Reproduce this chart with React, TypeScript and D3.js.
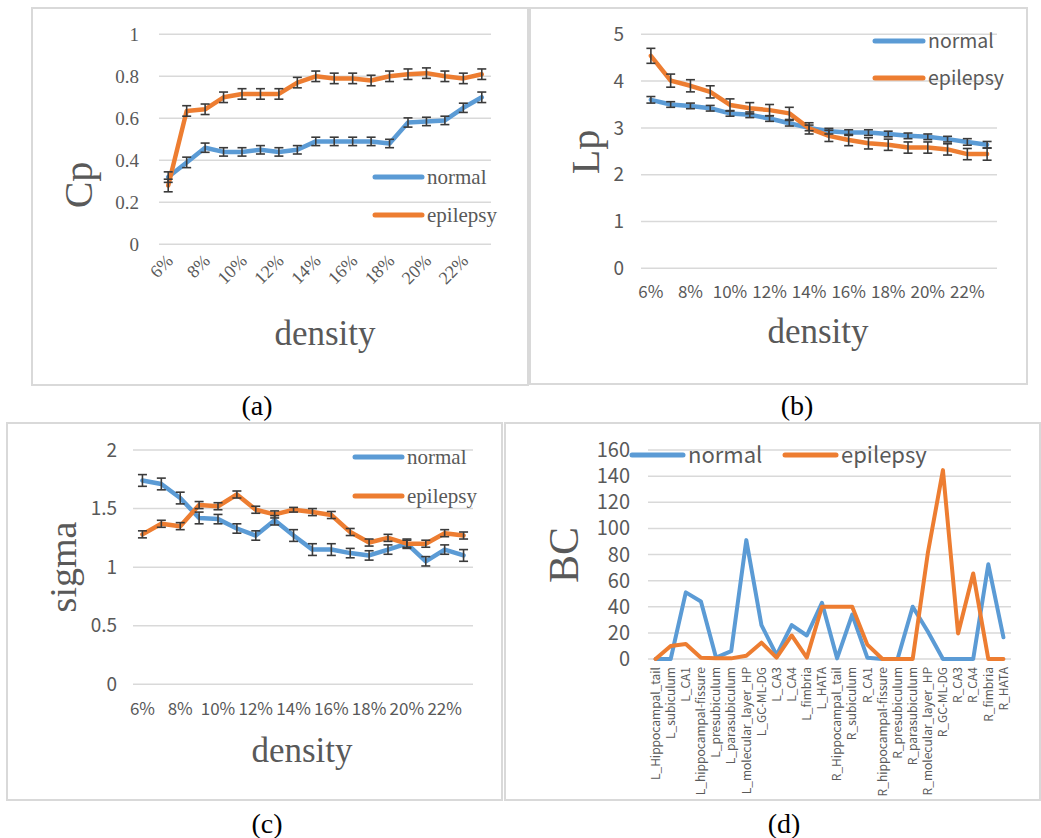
import React from "react";
import * as d3 from "d3";

const densityLabels = ["6%", "7%", "8%", "9%", "10%", "11%", "12%", "13%", "14%", "15%", "16%", "17%", "18%", "19%", "20%", "21%", "22%", "23%"];

// (a) clustering coefficient
const cpTicks = [0, 0.2, 0.4, 0.6, 0.8, 1];
const cpNormal = [0.32, 0.39, 0.46, 0.44, 0.44, 0.45, 0.44, 0.45, 0.49, 0.49, 0.49, 0.49, 0.48, 0.58, 0.585, 0.59, 0.65, 0.7];
const cpNormalErr = [0.025, 0.025, 0.022, 0.02, 0.02, 0.02, 0.02, 0.02, 0.02, 0.02, 0.02, 0.02, 0.02, 0.022, 0.02, 0.02, 0.022, 0.025];
const cpEpilepsy = [0.28, 0.635, 0.643, 0.7, 0.716, 0.716, 0.716, 0.77, 0.8, 0.79, 0.79, 0.78, 0.8, 0.81, 0.815, 0.8, 0.79, 0.81];
const cpEpilepsyErr = [0.03, 0.025, 0.025, 0.025, 0.025, 0.025, 0.025, 0.025, 0.025, 0.025, 0.025, 0.025, 0.025, 0.025, 0.025, 0.025, 0.025, 0.025];

// (b) characteristic path length
const lpTicks = [0, 1, 2, 3, 4, 5];
const lpNormal = [3.6, 3.5, 3.47, 3.42, 3.31, 3.28, 3.2, 3.1, 3.0, 2.93, 2.9, 2.9, 2.87, 2.83, 2.81, 2.76, 2.7, 2.64];
const lpNormalErr = [0.07, 0.06, 0.06, 0.06, 0.06, 0.06, 0.06, 0.06, 0.06, 0.06, 0.06, 0.06, 0.06, 0.06, 0.06, 0.06, 0.07, 0.07];
const lpEpilepsy = [4.54, 4.01, 3.9, 3.77, 3.49, 3.42, 3.38, 3.31, 2.99, 2.83, 2.74, 2.67, 2.64, 2.58, 2.58, 2.54, 2.44, 2.44];
const lpEpilepsyErr = [0.16, 0.14, 0.13, 0.13, 0.13, 0.12, 0.12, 0.13, 0.12, 0.12, 0.12, 0.12, 0.12, 0.12, 0.12, 0.12, 0.12, 0.13];

// (c) small-worldness
const sigmaTicks = [0, 0.5, 1, 1.5, 2];
const sigmaNormal = [1.74, 1.71, 1.59, 1.42, 1.41, 1.33, 1.27, 1.4, 1.27, 1.15, 1.15, 1.12, 1.1, 1.15, 1.2, 1.05, 1.15, 1.1];
const sigmaNormalErr = [0.05, 0.05, 0.05, 0.05, 0.04, 0.04, 0.04, 0.04, 0.05, 0.05, 0.05, 0.04, 0.04, 0.04, 0.04, 0.04, 0.04, 0.05];
const sigmaEpilepsy = [1.28, 1.37, 1.35, 1.53, 1.52, 1.62, 1.49, 1.45, 1.49, 1.47, 1.445, 1.3, 1.21, 1.25, 1.2, 1.2, 1.29, 1.27];
const sigmaEpilepsyErr = [0.03, 0.03, 0.03, 0.03, 0.03, 0.03, 0.03, 0.03, 0.02, 0.03, 0.03, 0.03, 0.03, 0.03, 0.03, 0.03, 0.03, 0.03];

// (d) betweenness centrality per region
const regionLabels = [
  "L_Hippocampal_tail", "L_subiculum", "L_CA1", "L_hippocampal-fissure", "L_presubiculum", "L_parasubiculum",
  "L_molecular_layer_HP", "L_GC-ML-DG", "L_CA3", "L_CA4", "L_fimbria", "L_HATA",
  "R_Hippocampal_tail", "R_subiculum", "R_CA1", "R_hippocampal-fissure", "R_presubiculum", "R_parasubiculum",
  "R_molecular_layer_HP", "R_GC-ML-DG", "R_CA3", "R_CA4", "R_fimbria", "R_HATA",
];
const bcTicks = [0, 20, 40, 60, 80, 100, 120, 140, 160];
const bcNormal = [0, 0, 51, 44, 1, 6, 91, 26, 3, 26, 18, 43, 0.5, 34, 1, 0, 0, 40, 21, 0, 0, 0, 72.5, 16.6];
const bcEpilepsy = [0, 10, 11.5, 1, 0.5, 0.5, 2.5, 12.5, 1, 18, 1, 40, 40, 40, 11, 0, 0, 0, 81, 144.6, 19.6, 65.5, 0, 0];

const BLUE = "#5B9BD5";
const ORANGE = "#ED7D31";
const GRID = "#d9d9d9";
const TEXT = "#595959";
const SERIF = "'Liberation Serif', 'Times New Roman', serif";
const SANS = "'Noto Sans CJK SC', 'Microsoft YaHei', sans-serif";

function LinePanel(p: any) {
  const x = d3.scalePoint<string>().domain(p.categories).range([p.x0, p.x1]).padding(0.5);
  const y = d3.scaleLinear().domain([0, p.yMax]).range([p.yBottom, p.yTop]);
  const line = d3.line<number>()
    .x((d, i) => x(p.categories[i]) as number)
    .y(d => y(d));

  return (
    <g>
      <rect x={p.frame[0]} y={p.frame[1]} width={p.frame[2]} height={p.frame[3]} fill="none" stroke={GRID} strokeWidth={2} />
      {p.ticks.map((t: number) => (
        <g key={t}>
          <line x1={p.x0} x2={p.x1} y1={y(t)} y2={y(t)} stroke={GRID} strokeWidth={1.5} />
          <text x={p.tickX} y={y(t)} dy="0.35em" textAnchor="end" fontFamily={p.tickFont} fontSize={p.tickSize} fill={TEXT}>{String(t)}</text>
        </g>
      ))}
      {p.categories.map((c: string, i: number) => {
        if (i % p.labelEvery !== 0) return null;
        const cx = x(c) as number;
        if (p.xLabelMode === "rot45") {
          return (
            <text key={c} transform={`translate(${cx + 6},${p.xLabelY}) rotate(-45)`} textAnchor="end" fontFamily={p.xFont} fontSize={p.xSize} fill={TEXT}>{c}</text>
          );
        }
        if (p.xLabelMode === "rot90") {
          return (
            <text key={c} transform={`translate(${cx},${p.xLabelY}) rotate(-90)`} dy="0.35em" textAnchor="end" fontFamily={p.xFont} fontSize={p.xSize} fill={TEXT}>{c}</text>
          );
        }
        return (
          <text key={c} x={cx} y={p.xLabelY} textAnchor="middle" fontFamily={p.xFont} fontSize={p.xSize} fill={TEXT}>{c}</text>
        );
      })}
      {p.series.map((s: any, k: number) => (
        <path key={k} d={line(s.values) as string} fill="none" stroke={s.color} strokeWidth={p.lineWidth} strokeLinejoin="round" strokeLinecap="round" />
      ))}
      {p.series.map((s: any, k: number) =>
        s.errors ? (
          <g key={"e" + k} stroke="#3a3a3a" strokeWidth={1.6}>
            {s.values.map((v: number, i: number) => {
              const cx = x(p.categories[i]) as number;
              const yt = y(v + s.errors[i]);
              const yb = y(v - s.errors[i]);
              return (
                <g key={i}>
                  <line x1={cx} x2={cx} y1={yt} y2={yb} />
                  <line x1={cx - 4.5} x2={cx + 4.5} y1={yt} y2={yt} />
                  <line x1={cx - 4.5} x2={cx + 4.5} y1={yb} y2={yb} />
                </g>
              );
            })}
          </g>
        ) : null
      )}
      {p.legend.map((l: any) => (
        <g key={l.name}>
          <line x1={l.x} x2={l.x + l.len} y1={l.y} y2={l.y} stroke={l.color} strokeWidth={5} strokeLinecap="round" />
          <text x={l.x + l.len + 5} y={l.y} dy="0.35em" fontFamily={p.legendFont} fontSize={p.legendSize} fill={TEXT}>{l.name}</text>
        </g>
      ))}
      <text transform={`translate(${p.yTitle[0]},${p.yTitle[1]}) rotate(-90)`} dy="0.35em" textAnchor="middle" fontFamily={SERIF} fontSize={p.yTitleSize} fill={TEXT}>{p.yTitleText}</text>
      {p.xTitle ? (
        <text x={p.xTitle[0]} y={p.xTitle[1]} textAnchor="middle" fontFamily={SERIF} fontSize={35} fill={TEXT}>density</text>
      ) : null}
      <text x={p.caption[0]} y={p.caption[1]} textAnchor="middle" fontFamily={SERIF} fontSize={28} fill="#000">{p.captionText}</text>
    </g>
  );
}

export default function App() {
  return (
    <svg width={1041} height={838} style={{ position: "absolute", left: 0, top: 0, background: "#fff" }}>
      <rect width={1041} height={838} fill="#fff" />
      <LinePanel
        frame={[32, 8, 496, 377]} x0={159} x1={491} yTop={34.3} yBottom={244.3} yMax={1}
        categories={densityLabels} ticks={cpTicks} tickX={139} tickFont={SERIF} tickSize={19}
        xLabelMode="rot45" labelEvery={2} xLabelY={262} xFont={SERIF} xSize={18}
        lineWidth={4.5}
        series={[
          { values: cpNormal, errors: cpNormalErr, color: BLUE },
          { values: cpEpilepsy, errors: cpEpilepsyErr, color: ORANGE },
        ]}
        legend={[
          { name: "normal", x: 375, y: 177, len: 47, color: BLUE },
          { name: "epilepsy", x: 375, y: 215, len: 47, color: ORANGE },
        ]}
        legendFont={SERIF} legendSize={21}
        yTitle={[78, 185]} yTitleText="Cp" yTitleSize={40}
        xTitle={[325, 345]} caption={[257, 415]} captionText="(a)"
      />
      <LinePanel
        frame={[530, 8, 497, 376]} x0={641} x1={997} yTop={34.3} yBottom={268.3} yMax={5}
        categories={densityLabels} ticks={lpTicks} tickX={624} tickFont={SANS} tickSize={19}
        xLabelMode="flat" labelEvery={2} xLabelY={298} xFont={SANS} xSize={17}
        lineWidth={4.5}
        series={[
          { values: lpNormal, errors: lpNormalErr, color: BLUE },
          { values: lpEpilepsy, errors: lpEpilepsyErr, color: ORANGE },
        ]}
        legend={[
          { name: "normal", x: 875, y: 41, len: 48, color: BLUE },
          { name: "epilepsy", x: 875, y: 78, len: 48, color: ORANGE },
        ]}
        legendFont={SANS} legendSize={19.5}
        yTitle={[585, 152]} yTitleText="Lp" yTitleSize={40}
        xTitle={[818, 343]} caption={[797, 415]} captionText="(b)"
      />
      <LinePanel
        frame={[7, 423, 495, 377]} x0={133} x1={473} yTop={450} yBottom={684.3} yMax={2}
        categories={densityLabels} ticks={sigmaTicks} tickX={117} tickFont={SANS} tickSize={19}
        xLabelMode="flat" labelEvery={2} xLabelY={715} xFont={SANS} xSize={17}
        lineWidth={4.5}
        series={[
          { values: sigmaNormal, errors: sigmaNormalErr, color: BLUE },
          { values: sigmaEpilepsy, errors: sigmaEpilepsyErr, color: ORANGE },
        ]}
        legend={[
          { name: "normal", x: 355, y: 457, len: 47, color: BLUE },
          { name: "epilepsy", x: 355, y: 496, len: 47, color: ORANGE },
        ]}
        legendFont={SERIF} legendSize={21}
        yTitle={[63, 567]} yTitleText="sigma" yTitleSize={38}
        xTitle={[302, 762]} caption={[267, 833]} captionText="(c)"
      />
      <LinePanel
        frame={[505, 423, 535, 377]} x0={648} x1={1011} yTop={450} yBottom={659} yMax={160}
        categories={regionLabels} ticks={bcTicks} tickX={630} tickFont={SANS} tickSize={20}
        xLabelMode="rot90" labelEvery={1} xLabelY={667} xFont={SANS} xSize={12}
        lineWidth={4}
        series={[
          { values: bcNormal, color: BLUE },
          { values: bcEpilepsy, color: ORANGE },
        ]}
        legend={[
          { name: "normal", x: 632, y: 455, len: 51, color: BLUE },
          { name: "epilepsy", x: 785, y: 455, len: 51, color: ORANGE },
        ]}
        legendFont={SANS} legendSize={22}
        yTitle={[563, 555]} yTitleText="BC" yTitleSize={42}
        caption={[784, 833]} captionText="(d)"
      />
    </svg>
  );
}
